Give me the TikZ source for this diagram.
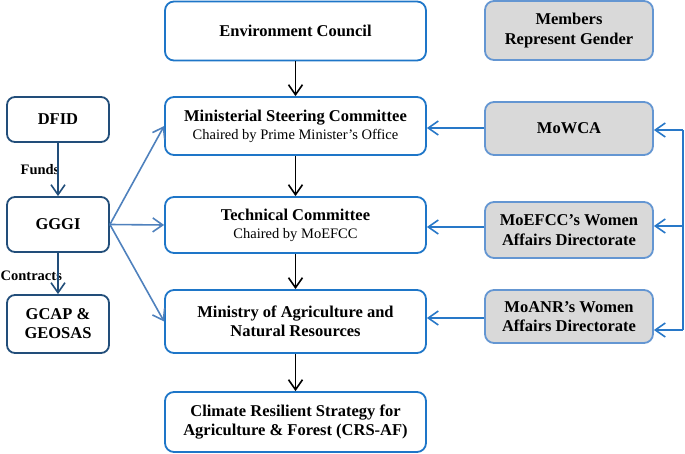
\documentclass[tikz,border=0pt]{standalone}
\usepackage{fontspec}
\setmainfont{Liberation Serif}
\usetikzlibrary{arrows.meta}
\definecolor{cblue}{RGB}{30,118,200}
\definecolor{navy}{RGB}{34,78,122}
\definecolor{gborder}{RGB}{100,150,210}
\definecolor{gfill}{RGB}{217,217,217}
\definecolor{steel}{RGB}{79,129,189}
\definecolor{rblue}{RGB}{40,120,200}
\tikzset{
  cbox/.style={draw=cblue, line width=1.8pt, rounded corners=9pt, fill=white,
    minimum width=261pt, align=center, inner sep=0pt,
    font=\fontsize{16.5}{19}\selectfont\bfseries},
  lbox/.style={draw=navy, line width=1.8pt, rounded corners=8pt, fill=white,
    minimum width=102pt, align=center, inner sep=0pt,
    font=\fontsize{16.5}{19}\selectfont\bfseries},
  gbox/.style={draw=gborder, line width=1.8pt, rounded corners=9pt, fill=gfill,
    minimum width=168pt, align=center, inner sep=0pt,
    font=\fontsize{16.5}{19.5}\selectfont\bfseries},
  tip/.style={-{Straight Barb[length=10pt,width=14pt]}},
  carrow/.style={tip, draw=black, line width=1.6pt},
  larrow/.style={tip, draw=navy, line width=1.6pt},
  sarrow/.style={tip, draw=steel, line width=1.6pt},
  rarrow/.style={tip, draw=rblue, line width=1.6pt},
  lbl/.style={font=\fontsize{14.5}{17}\selectfont\bfseries, inner sep=0pt}
}
\newcommand{\subl}[1]{{\fontsize{14.5}{17}\selectfont\mdseries #1}}
\begin{document}
\begin{tikzpicture}[x=1pt,y=-1pt]
\useasboundingbox (0,0) rectangle (685,454);
% center column
\node[cbox, minimum height=59pt] (env) at (295.5,31) {Environment Council};
\node[cbox, minimum height=58pt] (msc) at (295.5,126) {Ministerial Steering Committee\\[-1pt]\subl{Chaired by Prime Minister’s Office}};
\node[cbox, minimum height=56pt] (tc) at (295.5,225) {Technical Committee\\[-1pt]\subl{Chaired by MoEFCC}};
\node[cbox, minimum height=63pt] (moa) at (295.5,321.5) {Ministry of Agriculture and\\Natural Resources};
\node[cbox, minimum height=60pt] (crs) at (295.5,422) {Climate Resilient Strategy for\\Agriculture \& Forest (CRS-AF)};
% left column
\node[lbox, minimum height=45pt] (dfid) at (58,119.5) {DFID};
\node[lbox, minimum height=55pt] (gggi) at (58,224.5) {GGGI};
\node[lbox, minimum height=58pt] (gcap) at (58,324) {GCAP \&\\GEOSAS};
% labels
\node[lbl] (funds) at (40,170) {Funds};
\node[lbl, anchor=west] (contracts) at (0.5,276) {Contracts};
% right column
\node[gbox, minimum height=59pt] (mem) at (569,30.5) {Members\\Represent Gender};
\node[gbox, minimum height=53pt] (mowca) at (569,128.5) {MoWCA};
\node[gbox, minimum height=56pt] (moefcc) at (569,230) {MoEFCC’s Women\\Affairs Directorate};
\node[gbox, minimum height=53pt] (moanr) at (569,316.5) {MoANR’s Women\\Affairs Directorate};
% center arrows
\draw[carrow] (env.south) -- (msc.north);
\draw[carrow] (msc.south) -- (tc.north);
\draw[carrow] (tc.south) -- (moa.north);
\draw[carrow] (moa.south) -- (crs.north);
% left arrows
\draw[larrow] (dfid.south) -- (gggi.north);
\draw[larrow] (gggi.south) -- (gcap.north);
\draw[sarrow] (gggi.east) -- (msc.west);
\draw[sarrow] (gggi.east) -- (tc.west);
\draw[sarrow] (gggi.east) -- (moa.west);
% right arrows into center
\draw[rarrow] (mowca.west |- 0,128) -- (msc.east |- 0,128);
\draw[rarrow] (moefcc.west |- 0,227) -- (tc.east |- 0,227);
\draw[rarrow] (moanr.west |- 0,318) -- (moa.east |- 0,318);
% bracket
\coordinate (btop) at (683,130);
\coordinate (bmid) at (683,226);
\coordinate (bbot) at (683,330);
\draw[rblue, line width=1.6pt] (btop) -- (bbot);
\draw[rarrow] (btop) -- (mowca.east |- btop);
\draw[rarrow] (bmid) -- (moefcc.east |- bmid);
\draw[rarrow] (bbot) -- (moanr.east |- bbot);
\end{tikzpicture}
\end{document}
